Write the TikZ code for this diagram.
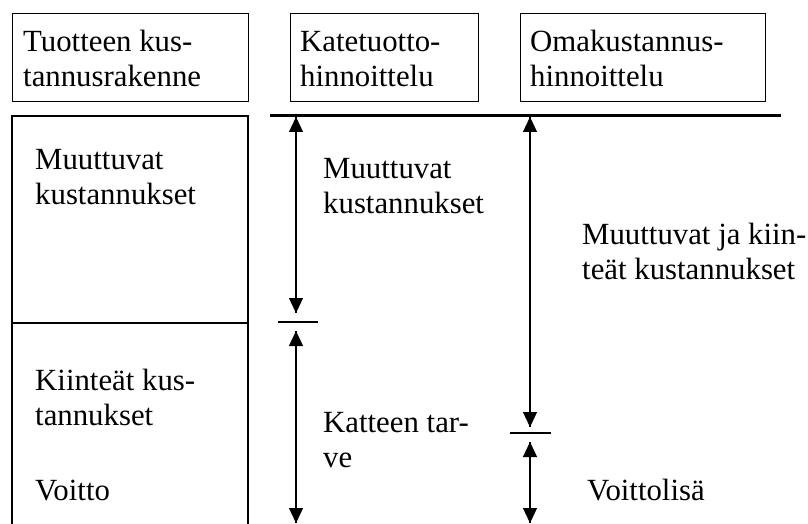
\documentclass[tikz,border=0pt]{standalone}
\usepackage{fontspec}
\setmainfont{Liberation Serif}
\usetikzlibrary{arrows.meta}
\begin{document}
\begin{tikzpicture}[x=1pt,y=-1pt,
  font=\fontsize{30.8}{35}\selectfont,
  box/.style={draw,line width=1.3pt,anchor=north west,inner sep=0pt,minimum height=88pt},
  txt/.style={anchor=base west,align=left,inner sep=0pt},
  dim/.style={line width=1.3pt,-{Triangle[width=14pt,length=15pt]}},
  sep/.style={line width=1.3pt}]
\useasboundingbox (0,0) rectangle (808,524);
% header boxes
\node[box,minimum width=236pt] (h1) at (12,13) {};
\node[box,minimum width=188pt] (h2) at (290,13) {};
\node[box,minimum width=245pt] (h3) at (520,13) {};
\node[txt] (h1t) at (23,87) {Tuotteen kus-\\tannusrakenne};
\node[txt] (h2t) at (300,87) {Katetuotto-\\hinnoittelu};
\node[txt] (h3t) at (530,87) {Omakustannus-\\hinnoittelu};
% thick base line
\coordinate (bl) at (270,116);
\coordinate (br) at (781,116);
\draw[line width=3pt] (bl) -- (br);
% structure box (open at bottom)
\coordinate (sa) at (12,524);
\coordinate (sb) at (12,116);
\coordinate (sc) at (248,116);
\coordinate (sd) at (248,524);
\coordinate (da) at (12,323);
\coordinate (db) at (248,323);
\draw[line width=1.3pt] (sa) -- (sb) -- (sc) -- (sd);
\draw[line width=1.3pt] (da) -- (db);
\node[txt] (mk1) at (35,204) {Muuttuvat\\kustannukset};
\node[txt] (kk) at (35,425) {Kiinteät kus-\\tannukset};
\node[txt] (vo) at (35,500) {Voitto};
% contribution margin column
\coordinate (a1) at (296,117);
\coordinate (a2) at (296,313);
\coordinate (s1a) at (278,322);
\coordinate (s1b) at (318,322);
\coordinate (a3) at (296,331);
\coordinate (a4) at (296,523);
\draw[dim] (a2) -- (a1);
\draw[dim] (a1) -- (a2);
\draw[sep] (s1a) -- (s1b);
\draw[dim] (a4) -- (a3);
\draw[dim] (a3) -- (a4);
\node[txt] (mk2) at (323,213) {Muuttuvat\\kustannukset};
\node[txt] (kt) at (323,467) {Katteen tar-\\ve};
% full cost column
\coordinate (b1) at (530,117);
\coordinate (b2) at (530,427);
\coordinate (s2a) at (510,433);
\coordinate (s2b) at (551,433);
\coordinate (b3) at (530,442);
\coordinate (b4) at (530,523);
\draw[dim] (b2) -- (b1);
\draw[dim] (b1) -- (b2);
\draw[sep] (s2a) -- (s2b);
\draw[dim] (b4) -- (b3);
\draw[dim] (b3) -- (b4);
\node[txt] (mk3) at (582,279) {Muuttuvat ja kiin-\\teät kustannukset};
\node[txt] (vl) at (587,500) {Voittolisä};
\end{tikzpicture}
\end{document}
